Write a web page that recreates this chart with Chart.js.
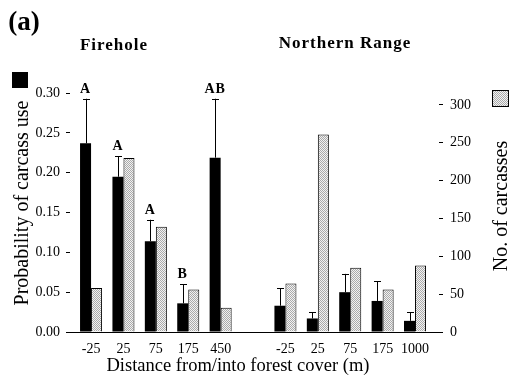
<!DOCTYPE html>
<html>
<head>
<meta charset="utf-8">
<script src="https://cdn.jsdelivr.net/npm/chart.js@4.4.0/dist/chart.umd.min.js"></script>
<style>
html, body { margin: 0; padding: 0; background: #fff; }
</style>
</head>
<body>
<canvas id="carcass_chart" width="511" height="382"></canvas>
<script>
// sites and distance classes ('' = spacer between the two sites)
var siteNames = ['Firehole', 'Northern Range'];
var fireholeDist = ['-25', '25', '75', '175', '450'];
var northernDist = ['-25', '25', '75', '175', '1000'];

// probability of carcass use (mean and SE)
var fireholeProb = [0.237, 0.195, 0.114, 0.036, 0.219];
var fireholeSE = [0.056, 0.026, 0.027, 0.024, 0.074];
var northernProb = [0.033, 0.017, 0.050, 0.039, 0.014];
var northernSE = [0.022, 0.008, 0.023, 0.025, 0.011];

// number of carcasses
var fireholeCount = [58, 230, 139, 56, 32];
var northernCount = [64, 261, 85, 56, 88];

// significance letters above bars
var fireholeLetters = ['A', 'A', 'A', 'B', 'AB'];
var northernLetters = ['', '', '', '', ''];

// axis ticks
var probTicks = [0, 0.05, 0.10, 0.15, 0.20, 0.25, 0.30];
var countTicks = [0, 50, 100, 150, 200, 250, 300];

var distLabels = fireholeDist.concat([''], northernDist);
var slots = [];
distLabels.forEach(function (d, i) { if (d !== '') slots.push(i); });
var probAll = fireholeProb.concat(northernProb);
var seAll = fireholeSE.concat(northernSE);
var countAll = fireholeCount.concat(northernCount);
var letterAll = fireholeLetters.concat(northernLetters);

var serif = '"Liberation Serif", "Times New Roman", serif';
Chart.defaults.font.family = serif;
Chart.defaults.color = '#000';

// stippled fill for the carcass-count bars
var pc = document.createElement('canvas');
pc.width = 2; pc.height = 2;
var pctx = pc.getContext('2d');
pctx.fillStyle = '#f2f2f2'; pctx.fillRect(0, 0, 2, 2);
pctx.fillStyle = '#aaaaaa'; pctx.fillRect(0, 0, 1, 1); pctx.fillRect(1, 1, 1, 1);
var stipple = pctx.createPattern(pc, 'repeat');

var decorations = {
  id: 'decorations',
  afterDatasetsDraw: function (chart) {
    var ctx = chart.ctx, area = chart.chartArea, ys = chart.scales.y;
    ctx.save();
    ctx.strokeStyle = '#000';
    ctx.lineWidth = 1;
    // base line
    var y0 = Math.round(ys.getPixelForValue(0)) + 0.5;
    ctx.beginPath();
    ctx.moveTo(area.left - 3, y0);
    ctx.lineTo(area.right + 4, y0);
    ctx.stroke();
    // SE bars + letters
    chart.getDatasetMeta(0).data.forEach(function (bar, i) {
      var top = ys.getPixelForValue(probAll[i] + seAll[i]);
      var x = Math.round(bar.x) + 0.5;
      ctx.beginPath();
      ctx.moveTo(x, bar.y);
      ctx.lineTo(x, top);
      ctx.moveTo(x - 3.5, Math.round(top) + 0.5);
      ctx.lineTo(x + 3.5, Math.round(top) + 0.5);
      ctx.stroke();
      if (letterAll[i]) {
        ctx.font = 'bold 14px ' + serif;
        ctx.textAlign = 'center';
        ctx.textBaseline = 'alphabetic';
        ctx.letterSpacing = '1px';
        ctx.fillText(letterAll[i], bar.x, top - 6);
        ctx.letterSpacing = '0px';
      }
    });
    ctx.restore();
  },
  afterDraw: function (chart) {
    var ctx = chart.ctx;
    ctx.save();
    ctx.fillStyle = '#000';
    ctx.textAlign = 'center';
    ctx.textBaseline = 'middle';
    ctx.font = 'bold 27px ' + serif;
    ctx.fillText('(a)', 24, 23);
    ctx.font = 'bold 17px ' + serif;
    ctx.letterSpacing = '1px';
    ctx.fillText(siteNames[0], 114, 46);
    ctx.fillText(siteNames[1], 345, 44);
    ctx.letterSpacing = '0px';
    ctx.font = '18.5px ' + serif;
    ctx.fillText('Distance from/into forest cover (m)', 238, 366);
    ctx.font = '20px ' + serif;
    ctx.translate(23, 203);
    ctx.rotate(-Math.PI / 2);
    ctx.fillText('Probability of carcass use', 0, 0);
    ctx.restore();
    ctx.save();
    ctx.font = '20px ' + serif;
    ctx.textAlign = 'center';
    ctx.textBaseline = 'middle';
    ctx.translate(502, 206);
    ctx.rotate(-Math.PI / 2);
    ctx.fillText('No. of carcasses', 0, 0);
    ctx.restore();
    // legend keys
    ctx.save();
    ctx.fillStyle = '#000';
    ctx.fillRect(12, 72, 16, 16);
    ctx.fillStyle = stipple;
    ctx.fillRect(492, 90, 17, 17);
    ctx.strokeStyle = '#000';
    ctx.strokeRect(492.5, 90.5, 16, 16);
    ctx.restore();
  }
};

var chart = new Chart('carcass_chart', {
  type: 'bar',
  data: {
    datasets: [{
      label: 'Probability of carcass use',
      data: slots.map(function (s, i) { return { x: s, y: probAll[i] }; }),
      backgroundColor: '#000',
      borderWidth: 0,
      yAxisID: 'y'
    }, {
      label: 'No. of carcasses',
      data: slots.map(function (s, i) { return { x: s, y: countAll[i] }; }),
      backgroundColor: stipple,
      borderColor: '#000',
      borderWidth: 1,
      yAxisID: 'y1'
    }]
  },
  options: {
    responsive: false,
    animation: false,
    categoryPercentage: 0.68,
    barPercentage: 1,
    layout: { padding: { top: 86, left: 0, right: 0, bottom: 0 } },
    plugins: { legend: { display: false }, tooltip: { enabled: false } },
    scales: {
      x: {
        type: 'linear',
        offset: false,
        min: -0.65,
        max: 10.74,
        afterBuildTicks: function (scale) {
          scale.ticks = slots.map(function (s) { return { value: s }; });
        },
        ticks: {
          autoSkip: false,
          maxRotation: 0,
          padding: 9,
          font: { size: 14 },
          callback: function (v, i) { return distLabels[slots[i]]; }
        },
        grid: { display: false, drawTicks: false, offset: false },
        border: { display: false },
        afterFit: function (scale) { scale.height = 50; }
      },
      y: {
        position: 'left',
        min: 0,
        max: 0.309,
        afterBuildTicks: function (scale) {
          scale.ticks = probTicks.map(function (v) { return { value: v }; });
        },
        ticks: {
          padding: 6,
          font: { size: 14 },
          callback: function (v) { return v.toFixed(2); }
        },
        grid: { drawOnChartArea: false, drawTicks: true, tickLength: 4, color: '#000' },
        border: { display: false },
        afterFit: function (scale) { scale.width = 70; }
      },
      y1: {
        position: 'right',
        min: 0,
        max: 325,
        afterBuildTicks: function (scale) {
          scale.ticks = countTicks.map(function (v) { return { value: v }; });
        },
        ticks: {
          padding: 7,
          font: { size: 14 },
          callback: function (v) { return String(v); }
        },
        grid: { drawOnChartArea: false, drawTicks: true, tickLength: 4, color: '#000' },
        border: { display: false },
        afterFit: function (scale) { scale.width = 72; }
      }
    }
  },
  plugins: [decorations]
});
</script>
</body>
</html>
